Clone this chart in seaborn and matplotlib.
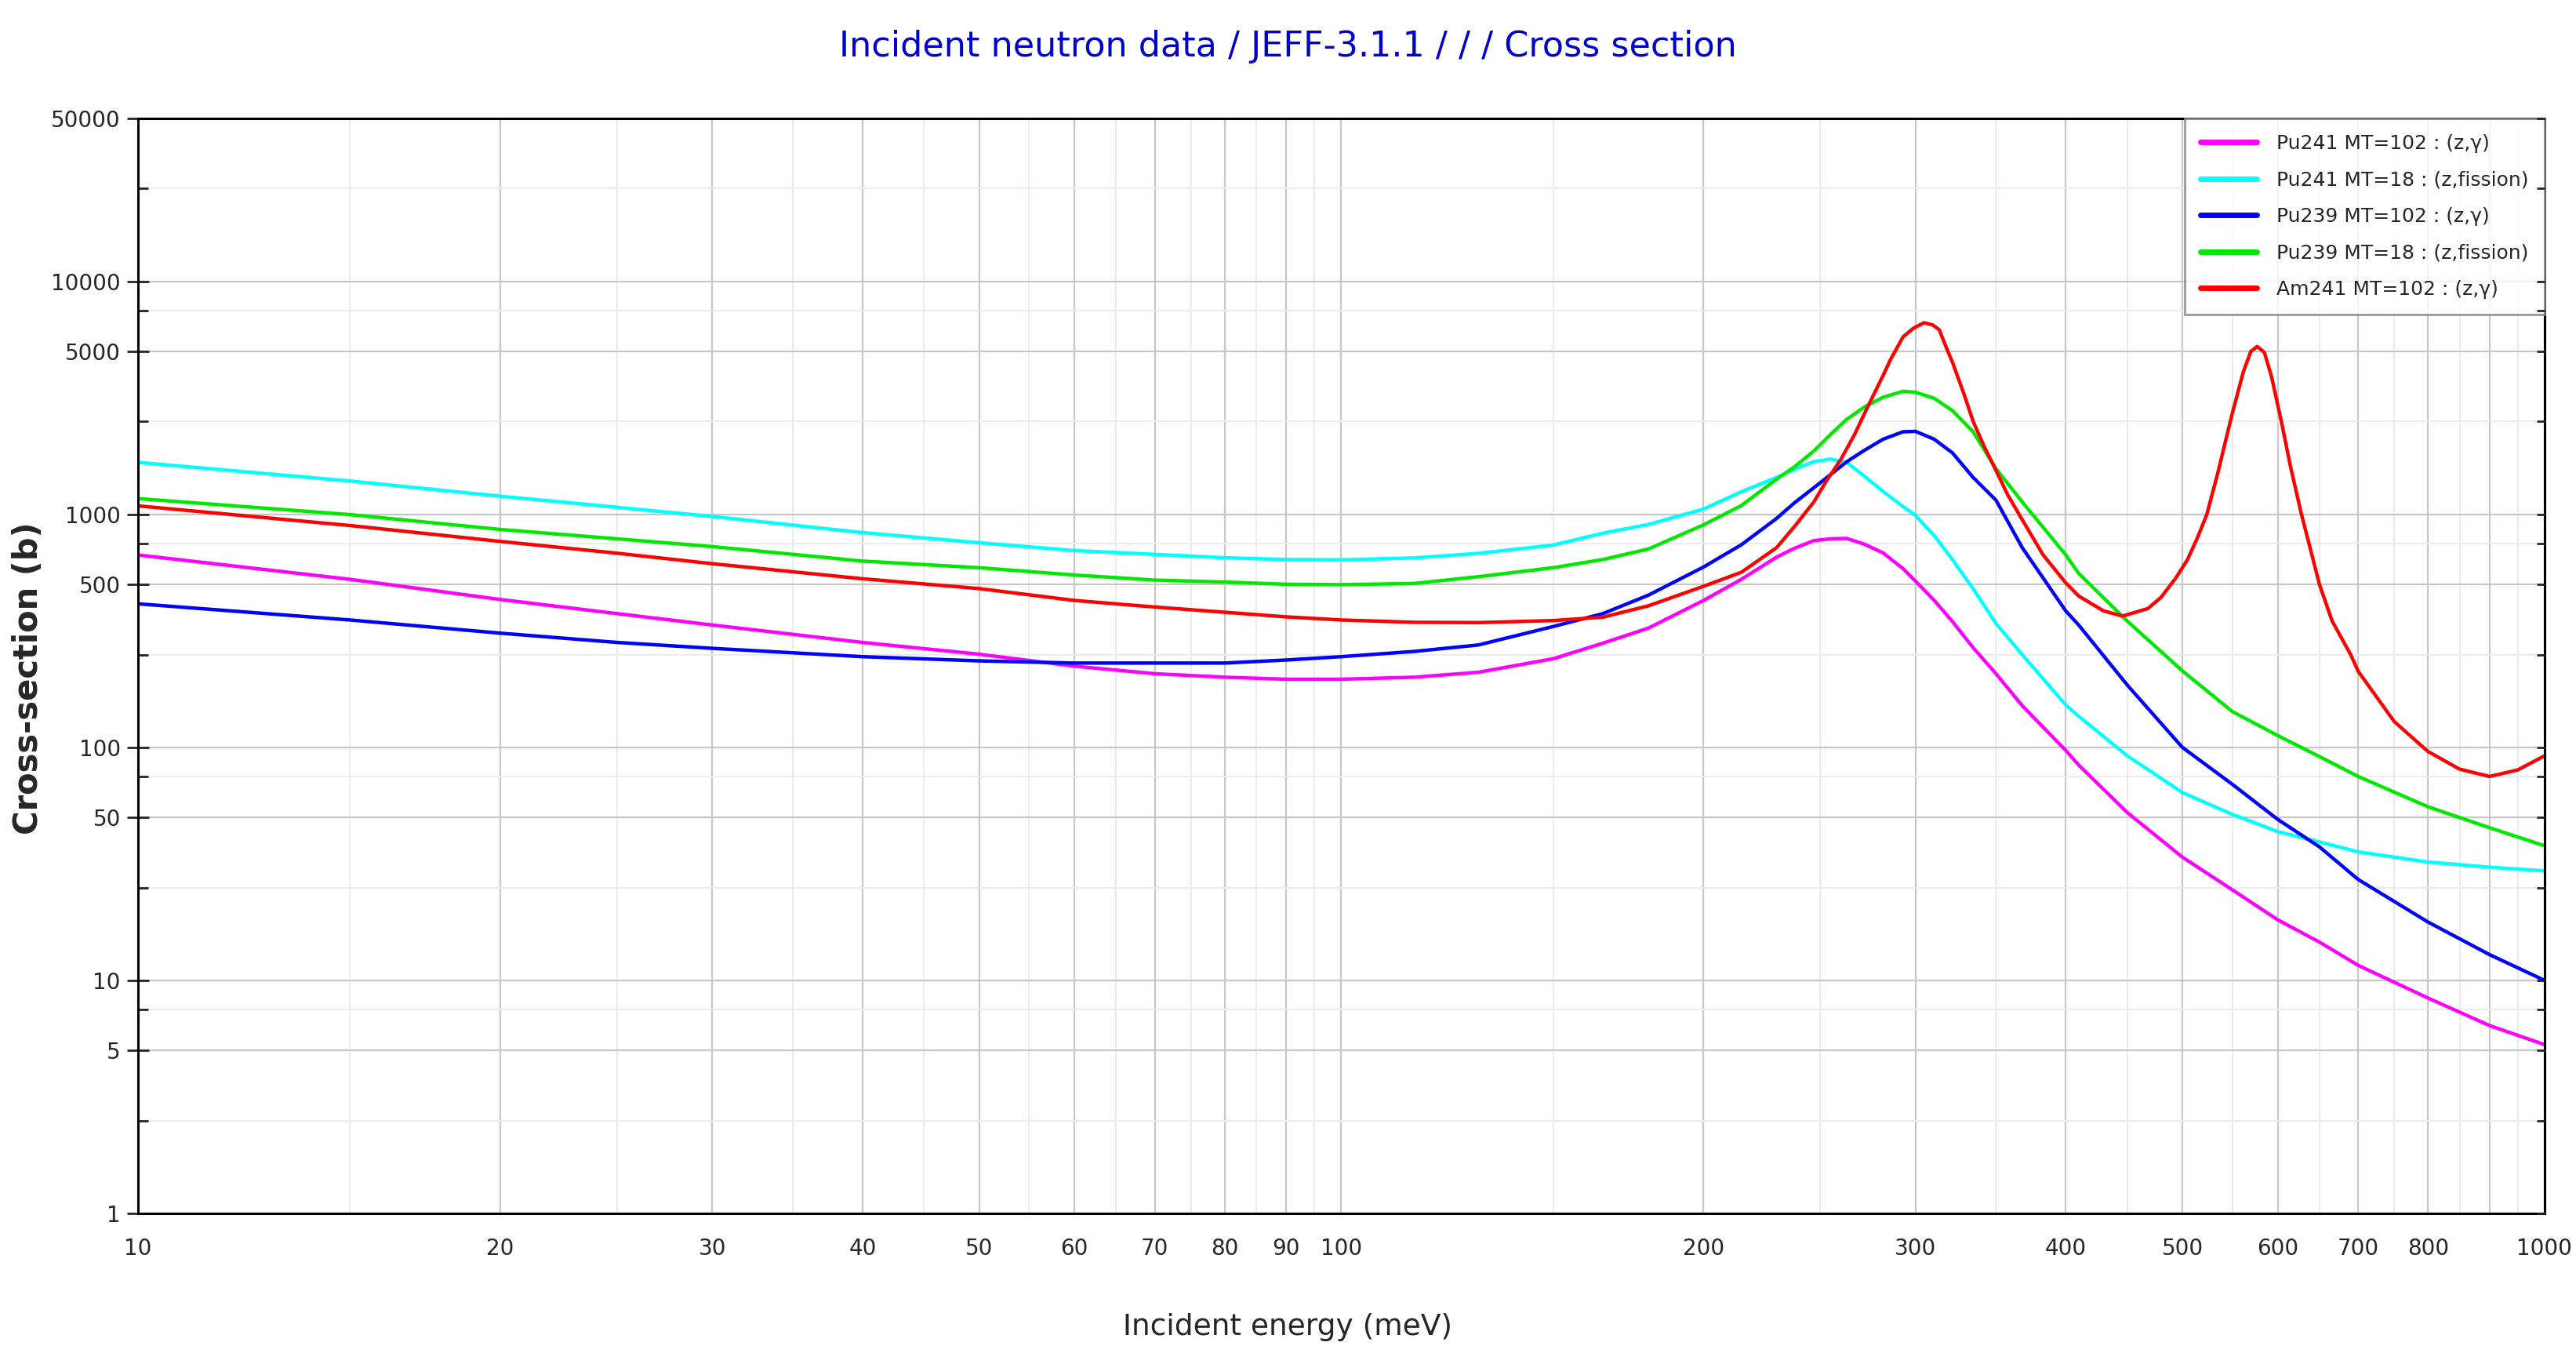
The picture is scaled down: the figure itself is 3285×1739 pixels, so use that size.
import numpy as np
import pandas as pd
import seaborn as sns
import matplotlib.pyplot as plt
from matplotlib.ticker import FixedLocator, FixedFormatter, NullFormatter

# incident energy grid (meV) for the Pu curves
energy = [10, 15, 20, 25, 30, 40, 50, 60, 70, 80, 90, 100, 115, 130, 150, 165, 180,
          200, 215, 230, 238, 247, 255, 263, 272, 282, 293, 300,
          311, 322, 335, 350, 368, 400, 410, 450, 500, 550, 600, 650, 700, 800, 900, 1000]

# cross sections (b)
pu241_capture = [669, 526, 431, 375, 335, 282, 251, 223, 207, 200, 196, 196, 200, 210, 240, 280, 325,
                 427, 526, 655, 715, 771, 785, 788, 745, 683, 584, 517,
                 427, 347, 268, 207, 151, 97, 84, 52.5, 33.8, 24.5, 18.2, 14.6, 11.6, 8.4, 6.4, 5.3]
pu241_fission = [1670, 1390, 1196, 1072, 979, 835, 755, 699, 673, 651, 640, 638, 650, 680, 738, 830, 905,
                 1053, 1250, 1440, 1560, 1683, 1725, 1670, 1460, 1253, 1080, 990,
                 810, 640, 480, 340, 250, 152, 136, 92, 64, 51.6, 43.5, 39.3, 35.6, 32.2, 30.6, 29.5]
pu239_capture = [413, 352, 309, 282, 266, 245, 235, 230, 230, 230, 237, 245, 258, 275, 330, 375, 450,
                 594, 740, 960, 1120, 1300, 1480, 1680, 1880, 2100, 2260, 2270,
                 2100, 1836, 1440, 1150, 720, 385, 335, 185, 100, 69.5, 49.1, 37.4, 27.1, 17.8, 12.9, 10.0]
pu239_fission = [1168, 997, 861, 785, 727, 630, 590, 549, 522, 512, 501, 499, 505, 540, 590, 640, 710,
                 901, 1090, 1415, 1598, 1870, 2200, 2553, 2884, 3180, 3373, 3340,
                 3146, 2786, 2261, 1570, 1130, 670, 558, 348, 213, 142.6, 112.4, 91.3, 75, 55.6, 45.2, 37.8]

# Am241 has two resonances, read on its own grid
energy_am = [10, 15, 20, 25, 30, 40, 50, 60, 70, 80, 90, 100, 115, 130, 150, 165, 180, 200, 215, 230,
             238, 247, 253, 260, 267, 273, 282, 286, 293, 299, 305, 310, 314, 318, 322, 329, 335,
             342, 350, 358, 368, 383, 400, 410, 430, 446, 468, 480, 494, 505, 515, 524, 535, 550,
             562, 570, 577, 585, 593, 604, 615, 628, 650, 666, 690, 700, 750, 800, 850, 900, 950, 1000]
am241_capture = [1087, 895, 765, 681, 614, 529, 480, 427, 400, 380, 363, 352, 344, 343, 350, 362, 405,
                 491, 564, 719, 886, 1130, 1390, 1713, 2200, 2800, 3941, 4608, 5775, 6298, 6637, 6500,
                 6194, 5250, 4500, 3313, 2509, 1967, 1543, 1210, 949, 670, 508, 446, 385, 366, 394,
                 440, 535, 640, 800, 1000, 1500, 2700, 4100, 5000, 5250, 4950, 3900, 2535, 1600, 1000,
                 500, 348, 250, 212, 129, 96, 80.6, 75, 80, 92]

labels = ["Pu241 MT=102 : (z,γ)", "Pu241 MT=18 : (z,fission)", "Pu239 MT=102 : (z,γ)",
          "Pu239 MT=18 : (z,fission)", "Am241 MT=102 : (z,γ)"]
colors = ["#ff00ff", "#00ffff", "#0000ff", "#00e800", "#ff0000"]

x_major = [10, 20, 30, 40, 50, 60, 70, 80, 90, 100, 200, 300, 400, 500, 600, 700, 800, 900, 1000]
x_labels = ["10", "20", "30", "40", "50", "60", "70", "80", "90", "100", "200", "300", "400",
            "500", "600", "700", "800", "", "1000"]
x_minor = [15, 25, 35, 45, 55, 65, 75, 85, 95, 150, 250, 350, 450, 550, 650, 750, 850, 950]
y_major = [1, 5, 10, 50, 100, 500, 1000, 5000, 10000, 50000]
y_minor = [2.5, 7.5, 25, 75, 250, 750, 2500, 7500, 25000]

frames = []
for lab, e, xs in zip(labels, [energy, energy, energy, energy, energy_am],
                      [pu241_capture, pu241_fission, pu239_capture, pu239_fission, am241_capture]):
    frames.append(pd.DataFrame({"energy": e, "xs": xs, "reaction": lab}))
df = pd.concat(frames, ignore_index=True)

sns.set_style("white")
plt.rcParams["font.family"] = ["DejaVu Sans"]

fig, ax = plt.subplots(figsize=(32.85, 17.39), dpi=100)
fig.subplots_adjust(left=0.0536, right=0.9878, top=0.9132, bottom=0.1104)

ax.set_xscale("log")
ax.set_yscale("log")
sns.lineplot(data=df, x="energy", y="xs", hue="reaction", hue_order=labels,
             palette=dict(zip(labels, colors)), estimator=None, sort=False,
             linewidth=3.2, ax=ax)
ax.set_xlim(10, 1000)
ax.set_ylim(1, 50000)

ax.xaxis.set_major_locator(FixedLocator(x_major))
ax.xaxis.set_major_formatter(FixedFormatter(x_labels))
ax.xaxis.set_minor_locator(FixedLocator(x_minor))
ax.xaxis.set_minor_formatter(NullFormatter())
ax.yaxis.set_major_locator(FixedLocator(y_major))
ax.yaxis.set_major_formatter(FixedFormatter([str(v) for v in y_major]))
ax.yaxis.set_minor_locator(FixedLocator(y_minor))
ax.yaxis.set_minor_formatter(NullFormatter())

ax.grid(which="major", color="#c8c8c8", linewidth=1.6)
ax.grid(which="minor", color="#ececec", linewidth=1.4)
ax.set_axisbelow(True)
ax.tick_params(which="major", direction="inout", length=20, width=2, labelsize=20, pad=6)
ax.tick_params(which="minor", direction="in", length=9, width=2)
ax.tick_params(axis="x", which="major", pad=12)
for s in ax.spines.values():
    s.set_color("black")
    s.set_linewidth(2.2)

# inward ticks on the right spine
ax2 = ax.twinx()
ax2.set_yscale("log")
ax2.set_ylim(1, 50000)
ax2.yaxis.set_major_locator(FixedLocator(y_major))
ax2.yaxis.set_minor_locator(FixedLocator(y_minor))
ax2.yaxis.set_major_formatter(NullFormatter())
ax2.yaxis.set_minor_formatter(NullFormatter())
ax2.tick_params(which="both", direction="in", length=7, width=2)
ax2.grid(False)
for s in ax2.spines.values():
    s.set_visible(False)

ax.set_xlabel("")
ax.set_ylabel("")
handles, _ = ax.get_legend_handles_labels()
leg = ax.legend(handles, labels, loc="upper right", bbox_to_anchor=(1, 1), borderaxespad=0,
                frameon=True, fancybox=False, edgecolor="#808080", fontsize=18,
                handlelength=2.9, handletextpad=1.0, labelspacing=0.9, borderpad=0.8)
leg.get_frame().set_linewidth(2)
for h in leg.get_lines():
    h.set_linewidth(5)
leg.set_zorder(10)

fig.text(0.5, 0.966, "Incident neutron data / JEFF-3.1.1 / / / Cross section", ha="center",
         va="center", color="#0000cc", fontsize=32)
fig.text(0.5, 0.027, "Incident energy (meV)", ha="center", va="center", fontsize=27)
fig.text(0.011, 0.503, "Cross-section (b)", ha="center", va="center", rotation=90,
         fontsize=30, fontweight="bold")

fig.savefig("out.png", dpi=100)
